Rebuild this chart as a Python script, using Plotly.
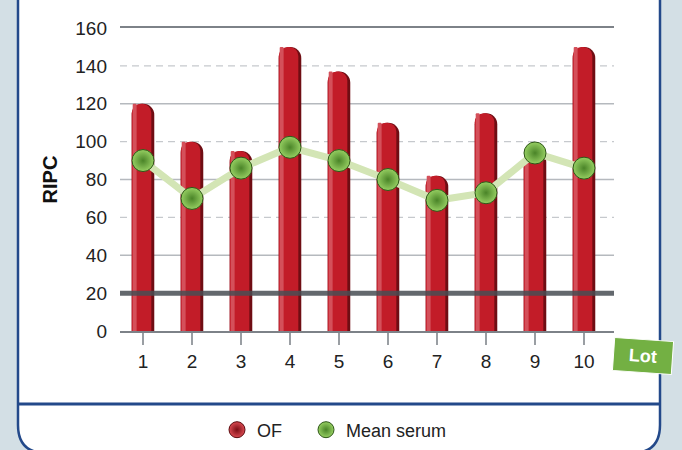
import plotly.graph_objects as go

# Lot numbers and measured values
lots = [1, 2, 3, 4, 5, 6, 7, 8, 9, 10]
of_values = [120, 100, 95, 150, 137, 110, 82, 115, 95, 150]
mean_serum = [90, 70, 86, 97, 90, 80, 69, 73, 94, 86]
threshold = 20
y_ticks = [0, 20, 40, 60, 80, 100, 120, 140, 160]

W, H = 682, 450
L, R, T, B = 120, 68, 28, 119
PW, PH = W - L - R, H - T - B


def px_x(p):
    return (p - L) / PW


def px_y(p):
    return (H - B - p) / PH


fig = go.Figure()

# Cylinder-like bars: dark body, main red face, light left highlight
bar_layers = [
    dict(width=0.46, offset=-0.23, color="#6f0d13"),
    dict(width=0.40, offset=-0.23, color="#c21c28"),
    dict(width=0.08, offset=-0.21, color="#d4505a"),
]
for layer in bar_layers:
    fig.add_trace(go.Bar(
        x=lots, y=of_values, width=layer["width"], offset=layer["offset"],
        marker=dict(color=layer["color"], line=dict(width=0), cornerradius="50%"),
        showlegend=False, hoverinfo="skip",
    ))

serum_marker = dict(size=22, color="#96cf62",
                    gradient=dict(type="radial", color="#4a8428"),
                    line=dict(color="#2e5618", width=1))

fig.add_trace(go.Scatter(
    x=lots, y=mean_serum, mode="lines",
    line=dict(color="#d3e5b5", width=7), showlegend=False, hoverinfo="skip",
))
fig.add_trace(go.Scatter(
    x=lots, y=mean_serum, mode="markers", marker=serum_marker,
    showlegend=False, name="Mean serum",
))

# Legend entries, each in its own legend box so they can be spaced freely
fig.add_trace(go.Scatter(
    x=[None], y=[None], mode="markers", name="OF", legend="legend",
    marker=dict(size=22, color="#da4a52",
                gradient=dict(type="radial", color="#7a0d14"),
                line=dict(color="#5a0a0e", width=1)),
))
fig.add_trace(go.Scatter(
    x=[None], y=[None], mode="markers", name="Mean serum", legend="legend2",
    marker=serum_marker,
))

panel_blue = "#23498a"
x0, x1 = px_x(18), px_x(660)
yt, yb = px_y(-10), px_y(453)
rx, ry = 28 / PW, 28 / PH
panel_path = (
    f"M {x0} {yt} L {x0} {yb + ry} Q {x0} {yb} {x0 + rx} {yb} "
    f"L {x1 - rx} {yb} Q {x1} {yb} {x1} {yb + ry} L {x1} {yt} Z"
)

shapes = [
    dict(type="path", path=panel_path, xref="paper", yref="paper",
         fillcolor="white", line=dict(color=panel_blue, width=2.5), layer="below"),
    dict(type="line", xref="paper", yref="paper", x0=x0, x1=x1,
         y0=px_y(404), y1=px_y(404), line=dict(color=panel_blue, width=3)),
]

# Grid: solid every 40, dashed in between
for v in y_ticks[1:-1]:
    if v == threshold:
        continue
    solid = v % 40 == 0
    shapes.append(dict(
        type="line", xref="paper", yref="y", x0=0, x1=1, y0=v, y1=v, layer="below",
        line=dict(color="#b5b9be" if solid else "#c6c9cd", width=1.3,
                  dash="solid" if solid else "7px,5px"),
    ))

# Reference level
shapes.append(dict(type="line", xref="paper", yref="y", x0=0, x1=1,
                   y0=threshold, y1=threshold, layer="above",
                   line=dict(color="rgba(72,78,83,0.85)", width=5)))

legend_common = dict(orientation="h", xanchor="left", y=px_y(430), yanchor="middle",
                     font=dict(size=18, color="#222222"),
                     bgcolor="rgba(0,0,0,0)", itemsizing="trace")

fig.update_layout(
    width=W, height=H,
    margin=dict(l=L, r=R, t=T, b=B, autoexpand=False),
    paper_bgcolor="#d3dfe5",
    plot_bgcolor="white",
    barmode="overlay",
    font=dict(family="Liberation Sans, Arial, sans-serif", color="#222222"),
    shapes=shapes,
    showlegend=True,
    legend=dict(x=px_x(217), **legend_common),
    legend2=dict(x=px_x(306), **legend_common),
    annotations=[
        dict(text="<b>Lot</b>", xref="paper", yref="paper", x=px_x(643), y=px_y(356),
             xanchor="center", yanchor="middle",
             showarrow=False, font=dict(size=18, color="white"),
             bgcolor="#73b043", bordercolor="white", borderwidth=1,
             borderpad=6, textangle=4, width=46, height=20),
    ],
)

fig.update_xaxes(
    range=[1 - 23 / 49, 1 - 23 / 49 + PW / 49],
    tickmode="array", tickvals=lots, ticktext=[str(v) for v in lots],
    ticks="outside", ticklen=12, tickwidth=1.5, tickcolor="#9a9ea3",
    tickfont=dict(size=19, color="#222222"),
    showline=True, mirror=True, linecolor="#7d8288", linewidth=1.5,
    showgrid=False, zeroline=False,
)
fig.update_yaxes(
    range=[0, 160], tickmode="array", tickvals=y_ticks,
    ticks="", ticklabelstandoff=12,
    tickfont=dict(size=19, color="#222222"),
    showgrid=False, zeroline=False,
    title=dict(text="<b>RIPC</b>", font=dict(size=20, color="#111111"), standoff=12),
)

fig.write_html("out.html")
